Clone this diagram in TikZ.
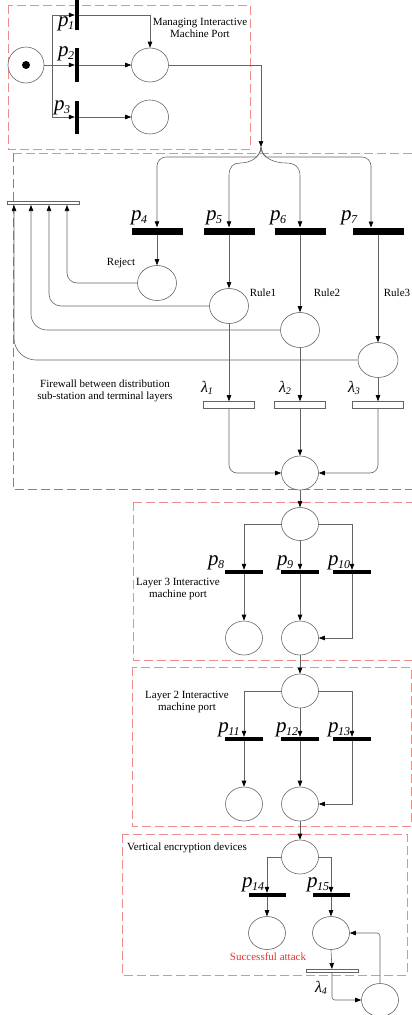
\documentclass[tikz,border=0pt]{standalone}
\usepackage{fontspec}
\setmainfont{Liberation Serif}
\usetikzlibrary{arrows.meta,shapes.geometric}
\definecolor{wire}{RGB}{100,100,100}
\definecolor{zone}{RGB}{238,140,140}
\definecolor{zonedark}{RGB}{215,95,95}
\definecolor{alert}{RGB}{225,50,50}
% transition and rate labels
\newcommand\pname[1]{{\fontsize{21}{21}\selectfont\itshape p}\kern-0.5pt\raisebox{-3pt}{\fontsize{12}{12}\selectfont\itshape #1}}
\newcommand\lname[1]{{\fontsize{16}{16}\selectfont\itshape λ}\raisebox{-2.5pt}{\fontsize{10}{10}\selectfont\itshape #1}}

\begin{document}
\begin{tikzpicture}[x=1pt,y=-1pt,
  wire/.style={draw=wire,line width=0.6pt},
  arr/.style={wire,-{Triangle[length=6pt,width=4.5pt,color=black]}},
  place/.style={ellipse,draw=wire,line width=0.6pt,fill=white,minimum width=37pt,minimum height=34pt,inner sep=0pt},
  vbar/.style={rectangle,fill=black,minimum width=4pt,minimum height=33pt,inner sep=0pt},
  hbar/.style={rectangle,fill=black,minimum width=51pt,minimum height=7pt,inner sep=0pt},
  sbar/.style={rectangle,fill=black,minimum width=38pt,minimum height=4pt,inner sep=0pt},
  tbar/.style={rectangle,draw=wire,fill=white,line width=0.6pt,minimum width=51pt,minimum height=7pt,inner sep=0pt},
  zonebox/.style={draw=zone,line width=1pt,dash pattern=on 9pt off 4pt},
  note/.style={font=\fontsize{11}{12.5}\selectfont,align=center,inner sep=0pt},
  lbl/.style={inner sep=0pt}]
\useasboundingbox (0,0) rectangle (412,1015);

% ---------- zones ----------
\draw[zonebox] (8,5) rectangle (250,149);
\draw[zonebox] (13,153) -- (420,153);
\draw[zonebox,draw=zonedark] (13,153) -- (13,489) -- (420,489);
\draw[zonebox] (133,502) -- (420,502);
\draw[zonebox] (133,502) -- (133,660) -- (420,660);
\draw[zonebox] (132,667) rectangle (411,826);
\draw[zonebox] (122,834) rectangle (407,975);

% ---------- managing interactive machine port ----------
\node[place,minimum width=36pt,minimum height=36pt] (S0) at (26,65) {};
\fill[black] (S0.center) circle[radius=4pt];
\coordinate (b0) at (52,65);
\node[vbar,minimum height=30pt] (P1) at (77,15) {};
\node[vbar,minimum height=34pt] (P2) at (77,65) {};
\node[vbar] (P3) at (77,117) {};
\node[place] (A) at (150,65) {};
\node[place] (B) at (150,117) {};
\draw[wire] (S0.east) -- (b0);
\draw[arr] (b0) |- (P1.west);
\draw[arr] (b0) -- (P2.west);
\draw[arr] (b0) |- (P3.west);
\draw[arr] (P1.east) -| (A.north);
\draw[arr] (P2.east) -- (A.west);
\draw[arr] (P3.east) -- (B.west);
\node[lbl] at (66,24) {\pname{1}};
\node[lbl] at (66,54) {\pname{2}};
\node[lbl] at (62,108) {\pname{3}};
\node[note] at (200,28) {Managing Interactive\\Machine Port};

\coordinate (J) at (261,147);
\draw[arr] (A.east) -| (J);

% ---------- firewall ----------
\node[hbar] (P4) at (157,231) {};
\node[hbar] (P5) at (229,231) {};
\node[hbar] (P6) at (300,231) {};
\node[hbar] (P7) at (378,231) {};
\coordinate (p7in) at (371,227.5);
\draw[arr,rounded corners=9pt] (J) .. controls (261,154) and (256,157) .. (247,157) -- (157,157) -- (P4.north);
\draw[arr] (J) .. controls (260,158) and (250,163) .. (240,163) .. controls (233,163) and (229,167) .. (229,176) -- (P5.north);
\draw[arr] (J) .. controls (262,158) and (274,163) .. (286,163) .. controls (295,163) and (300,167) .. (300,176) -- (P6.north);
\draw[arr,rounded corners=9pt] (J) .. controls (261,154) and (266,157) .. (275,157) -- (371,157) -- (p7in);
\node[lbl] at (139,218) {\pname{4}};
\node[lbl] at (214,218) {\pname{5}};
\node[lbl] at (278,218) {\pname{6}};
\node[lbl] at (349,218) {\pname{7}};

\node[place,minimum width=39pt,minimum height=35pt] (R0) at (157,283) {};
\node[place,minimum width=39pt,minimum height=35pt] (R1) at (229,306) {};
\node[place,minimum width=39pt,minimum height=35pt] (R2) at (300,330) {};
\node[place,minimum width=40pt,minimum height=35pt] (R3) at (378,360) {};
\draw[arr] (P4.south) -- (R0.north);
\draw[arr] (P5.south) -- (R1.north);
\draw[arr] (P6.south) -- (R2.north);
\draw[arr] (P7.south) -- (R3.north);
\node[note] at (121,263) {Reject};
\node[note] at (263,293) {Rule1};
\node[note] at (327,293) {Rule2};
\node[note] at (397,293) {Rule3};

\node[tbar,minimum width=72pt,minimum height=3.5pt] (C) at (43,203) {};
\coordinate (c1) at (67,205);
\coordinate (c2) at (49,205);
\coordinate (c3) at (31,205);
\coordinate (c4) at (14,205);
\draw[arr,rounded corners=10pt] (R0.west) -| (c1);
\draw[arr,rounded corners=12pt] (R1.west) -| (c2);
\draw[arr,rounded corners=16pt] (R2.west) -| (c3);
\draw[arr,rounded corners=22pt] (R3.west) -| (c4);

\node[tbar] (L1) at (229,405) {};
\node[tbar] (L2) at (300,405) {};
\node[tbar] (L3) at (378,405) {};
\draw[arr] (R1.south) -- (L1.north);
\draw[arr] (R2.south) -- (L2.north);
\draw[arr] (R3.south) -- (L3.north);
\node[lbl] at (207,388) {\lname{1}};
\node[lbl] at (285,388) {\lname{2}};
\node[lbl] at (354,388) {\lname{3}};
\node[note] at (105,391) {Firewall between distribution\\sub-station and terminal layers};

\node[place] (M) at (300,473) {};
\draw[arr,rounded corners=8pt] (L1.south) |- (M.west);
\draw[arr] (L2.south) -- (M.north);
\draw[arr,rounded corners=8pt] (L3.south) |- (M.east);

% ---------- layer 3 ----------
\node[place,minimum height=33pt] (N1) at (300,524) {};
\draw[arr] (M.south) -- (N1.north);
\node[sbar] (P8) at (244,572) {};
\node[sbar] (P9) at (300,572) {};
\node[sbar] (P10) at (352,572) {};
\draw[arr] (N1.west) -| (P8.north);
\draw[arr] (N1.south) -- (P9.north);
\draw[arr] (N1.east) -| (P10.north);
\node[place] (N2) at (244,638) {};
\node[place] (N3) at (300,638) {};
\draw[arr] (P8.south) -- (N2.north);
\draw[arr] (P9.south) -- (N3.north);
\draw[arr] (P10.south) |- (N3.east);
\node[lbl] at (216,563) {\pname{8}};
\node[lbl] at (285,563) {\pname{9}};
\node[lbl] at (339,563) {\pname{10}};
\node[note] at (178,589) {Layer 3 Interactive\\machine port};

% ---------- layer 2 ----------
\node[place] (Q1) at (300,691) {};
\draw[arr] (N3.south) -- (Q1.north);
\node[sbar] (P11) at (244,739) {};
\node[sbar] (P12) at (300,739) {};
\node[sbar] (P13) at (352,739) {};
\draw[arr] (Q1.west) -| (P11.north);
\draw[arr] (Q1.south) -- (P12.north);
\draw[arr] (Q1.east) -| (P13.north);
\node[place] (Q2) at (244,804) {};
\node[place] (Q3) at (300,804) {};
\draw[arr] (P11.south) -- (Q2.north);
\draw[arr] (P12.south) -- (Q3.north);
\draw[arr] (P13.south) |- (Q3.east);
\node[lbl] at (229,730) {\pname{11}};
\node[lbl] at (287,730) {\pname{12}};
\node[lbl] at (339,730) {\pname{13}};
\node[note] at (187,702) {Layer 2 Interactive\\machine port};

% ---------- vertical encryption devices ----------
\node[place] (V1) at (300,857) {};
\draw[arr] (Q3.south) -- (V1.north);
\node[sbar,minimum width=37pt] (P14) at (267,895) {};
\node[sbar,minimum width=37pt] (P15) at (331,895) {};
\draw[arr] (V1.west) -| (P14.north);
\draw[arr] (V1.east) -| (P15.north);
\node[place,minimum height=33pt] (S1) at (267,933) {};
\node[place,minimum height=33pt] (S2) at (331,933) {};
\draw[arr] (P14.south) -- (S1.north);
\draw[arr] (P15.south) -- (S2.north);
\node[lbl] at (253,885) {\pname{14}};
\node[lbl] at (318,885) {\pname{15}};
\node[note,text=alert] at (268,957) {Successful attack};
\node[note] at (187,848) {Vertical encryption devices};

\node[tbar,minimum width=52pt,minimum height=3.5pt] (L4) at (332,971) {};
\draw[arr] (S2.south) -- (L4.north);
\node[lbl] at (321,988) {\lname{4}};
\node[place,minimum height=33pt] (T) at (380,1000) {};
\draw[arr,rounded corners=3pt] (L4.south) |- (T.west);
\draw[arr,rounded corners=3pt] (T.north) |- (S2.east);
\end{tikzpicture}
\end{document}
